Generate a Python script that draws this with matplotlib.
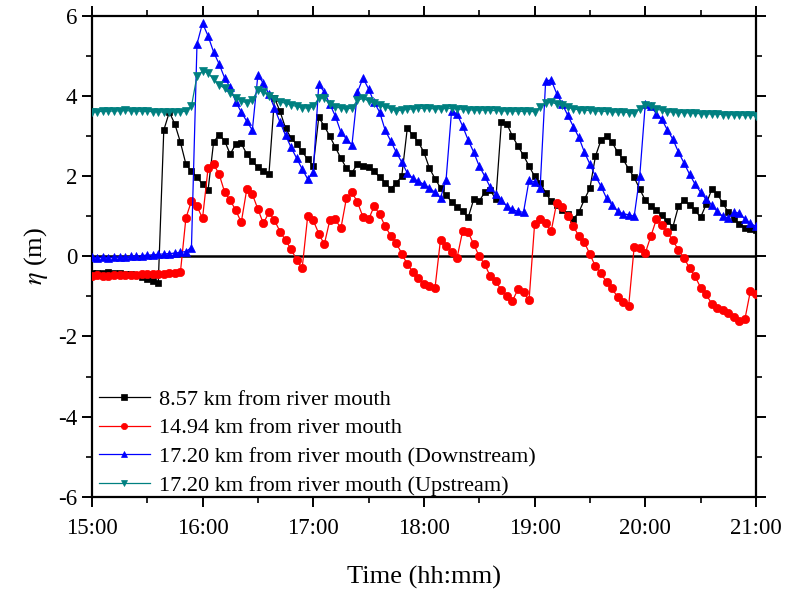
import numpy as np
import matplotlib
matplotlib.use("Agg")
import matplotlib.pyplot as plt
from matplotlib.ticker import MultipleLocator, FixedLocator

plt.rcParams['font.family'] = ['Liberation Serif', 'DejaVu Serif']
plt.rcParams['mathtext.fontset'] = 'stix'
plt.rcParams['axes.unicode_minus'] = False

# time in minutes after 15:00, sampled every 3 minutes
minutes = np.arange(0, 361, 3)

tick_minutes = [0, 60, 120, 180, 240, 300, 360]
tick_labels = ["15:00", "16:00", "17:00", "18:00", "19:00", "20:00", "21:00"]

labels = ["8.57 km from river mouth",
          "14.94 km from river mouth",
          "17.20 km from river mouth (Downstream)",
          "17.20 km from river mouth (Upstream)"]

eta_857 = [
    -0.42, -0.42, -0.41, -0.40, -0.42, -0.42, -0.44, -0.45, -0.47, -0.52,
    -0.56, -0.62, -0.67, 3.15, 3.60, 3.30, 2.85, 2.30, 2.12, 1.97,
    1.80, 1.65, 2.85, 3.04, 2.88, 2.55, 2.80, 2.82, 2.55, 2.37,
    2.22, 2.12, 2.05, 3.95, 3.62, 3.20, 2.95, 2.80, 2.62, 2.42,
    2.25, 3.47, 3.25, 3.00, 2.72, 2.45, 2.20, 2.09, 2.30, 2.26,
    2.22, 2.12, 1.98, 1.84, 1.68, 1.83, 2.00, 3.20, 3.02, 2.85,
    2.60, 2.20, 1.94, 1.71, 1.53, 1.36, 1.22, 1.12, 0.97, 1.42,
    1.38, 1.60, 1.65, 1.42, 3.35, 3.30, 3.00, 2.75, 2.52, 2.25,
    2.00, 1.84, 1.59, 1.37, 1.27, 1.15, 1.05, 0.93, 1.10, 1.42,
    1.70, 2.50, 2.90, 3.00, 2.85, 2.60, 2.42, 2.18, 1.97, 1.68,
    1.40, 1.25, 1.15, 1.02, 0.88, 0.74, 1.25, 1.40, 1.28, 1.15,
    0.97, 1.30, 1.67, 1.56, 1.33, 1.10, 0.93, 0.80, 0.72, 0.68,
    0.66]

eta_1494 = [
    -0.48, -0.47, -0.48, -0.48, -0.47, -0.47, -0.47, -0.46, -0.46, -0.45,
    -0.45, -0.44, -0.44, -0.43, -0.42, -0.42, -0.40, 0.96, 1.38, 1.25,
    0.95, 2.20, 2.30, 2.05, 1.60, 1.40, 1.15, 0.85, 1.68, 1.55,
    1.18, 0.82, 1.10, 0.90, 0.62, 0.40, 0.18, -0.08, -0.30, 1.00,
    0.90, 0.57, 0.30, 0.90, 0.92, 0.70, 1.45, 1.60, 1.35, 0.98,
    0.92, 1.25, 1.05, 0.75, 0.52, 0.33, 0.07, -0.20, -0.38, -0.54,
    -0.70, -0.74, -0.80, 0.42, 0.25, 0.12, -0.03, 0.63, 0.60, 0.30,
    0.00, -0.20, -0.50, -0.62, -0.85, -0.98, -1.11, -0.82, -0.90, -1.10,
    0.80, 0.92, 0.82, 0.63, 1.34, 1.22, 1.00, 0.76, 0.50, 0.35,
    0.05, -0.25, -0.42, -0.65, -0.80, -1.02, -1.15, -1.24, 0.24, 0.20,
    0.08, 0.50, 0.92, 0.78, 0.60, 0.40, 0.15, -0.03, -0.30, -0.50,
    -0.78, -0.95, -1.18, -1.30, -1.33, -1.42, -1.52, -1.62, -1.57, -0.86,
    -0.95]

eta_1720_down = [
    -0.02, -0.03, -0.02, -0.03, -0.02, -0.01, -0.02, 0.00, 0.00, 0.02,
    0.03, 0.04, 0.05, 0.06, 0.07, 0.08, 0.10, 0.12, 0.22, 5.30,
    5.82, 5.50, 5.10, 4.80, 4.45, 4.22, 3.86, 3.60, 3.37, 3.15,
    4.52, 4.32, 4.05, 3.70, 3.35, 3.02, 2.72, 2.45, 2.18, 1.93,
    2.10, 4.29, 4.10, 3.80, 3.50, 3.10, 2.93, 2.78, 4.10, 4.45,
    4.18, 3.85, 3.60, 3.15, 2.88, 2.60, 2.35, 2.08, 1.95, 1.87,
    1.80, 1.70, 1.60, 1.46, 1.90, 3.63, 3.55, 3.25, 2.90, 2.60,
    2.25, 2.00, 1.72, 1.55, 1.40, 1.25, 1.17, 1.12, 1.10, 1.90,
    1.86, 1.70, 4.38, 4.40, 4.06, 3.80, 3.52, 3.24, 2.97, 2.60,
    2.30, 2.00, 1.75, 1.45, 1.28, 1.13, 1.06, 1.04, 1.00, 2.00,
    3.80, 3.75, 3.56, 3.42, 3.15, 2.92, 2.60, 2.33, 2.05, 1.80,
    1.60, 1.42, 1.28, 1.12, 1.00, 0.96, 1.10, 1.08, 0.93, 0.82,
    0.75]

eta_1720_up = [
    3.60, 3.61, 3.62, 3.62, 3.63, 3.63, 3.64, 3.63, 3.63, 3.62,
    3.62, 3.61, 3.61, 3.60, 3.60, 3.61, 3.61, 3.62, 3.75, 4.50,
    4.62, 4.58, 4.42, 4.27, 4.20, 4.08, 3.95, 3.88, 3.83, 3.90,
    4.15, 4.10, 4.00, 3.93, 3.86, 3.82, 3.78, 3.74, 3.71, 3.70,
    3.74, 3.95, 3.95, 3.80, 3.73, 3.70, 3.68, 3.70, 3.90, 3.94,
    3.88, 3.82, 3.77, 3.73, 3.68, 3.63, 3.65, 3.67, 3.68, 3.70,
    3.69, 3.69, 3.68, 3.68, 3.70, 3.69, 3.68, 3.67, 3.66, 3.65,
    3.65, 3.65, 3.64, 3.64, 3.63, 3.63, 3.63, 3.62, 3.62, 3.62,
    3.61, 3.72, 3.83, 3.85, 3.80, 3.77, 3.72, 3.68, 3.66, 3.65,
    3.64, 3.63, 3.62, 3.62, 3.61, 3.60, 3.60, 3.59, 3.57, 3.68,
    3.78, 3.74, 3.68, 3.64, 3.61, 3.60, 3.59, 3.59, 3.58, 3.57,
    3.56, 3.56, 3.55, 3.55, 3.54, 3.54, 3.53, 3.53, 3.52, 3.52,
    3.51]

fig = plt.figure(figsize=(7.85, 5.90), dpi=100)
ax = fig.add_axes([0.117, 0.158, 0.846, 0.815])

ax.axhline(0, color='black', lw=1.8, zorder=1)

styles = [
    dict(color='black', marker='s', ms=5.0),
    dict(color='#ff0000', marker='o', ms=6.0),
    dict(color='#0000ff', marker='^', ms=6.0),
    dict(color='#008080', marker='v', ms=5.5),
]
series = [eta_857, eta_1494, eta_1720_down, eta_1720_up]
for vals, lab, st in zip(series, labels, styles):
    ax.plot(minutes, vals, color=st['color'], marker=st['marker'],
            markersize=st['ms'], lw=0.9, markeredgewidth=0.5,
            markeredgecolor=st['color'], label=lab, zorder=3)

ax.set_xlim(0, 360)
ax.set_ylim(-6, 6)
ax.xaxis.set_major_locator(FixedLocator(tick_minutes))
ax.set_xticklabels(tick_labels)
ax.xaxis.set_minor_locator(MultipleLocator(30))
ax.yaxis.set_major_locator(MultipleLocator(2))
ax.yaxis.set_minor_locator(MultipleLocator(1))

for s in ax.spines.values():
    s.set_linewidth(1.6)

ax.tick_params(which='major', direction='out', length=7, width=1.4,
               labelsize=16.5, top=True, right=True)
ax.tick_params(which='minor', direction='out', length=4, width=1.2,
               top=True, right=True)
ax.tick_params(axis='x', pad=8)

ax.set_xlabel('Time (hh:mm)', fontsize=19, labelpad=20)
ax.set_ylabel(r'$\eta$ (m)', fontsize=19, labelpad=6)

leg = ax.legend(loc='lower left', frameon=False, fontsize=16,
                handlelength=2.3, handletextpad=0.4, labelspacing=0.37,
                borderaxespad=0.0, borderpad=0.3,
                bbox_to_anchor=(0.0, -0.012))
for h in leg.legend_handles:
    h.set_markersize(4.5)

fig.savefig('out.png', dpi=100)
